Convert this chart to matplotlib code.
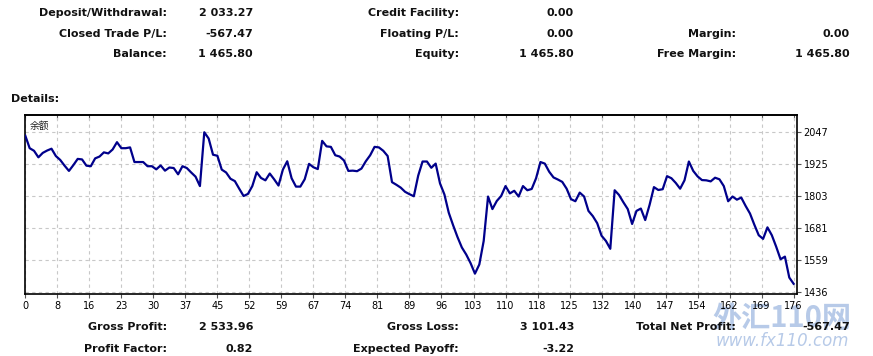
import matplotlib.pyplot as plt

# balance curve, one value per trade
balance = [
    2033, 1985, 1975, 1950, 1967, 1976, 1983, 1955, 1940, 1918,
    1898, 1920, 1944, 1942, 1918, 1916, 1946, 1953, 1969, 1965,
    1980, 2008, 1985, 1985, 1988, 1932, 1932, 1932, 1916, 1916,
    1904, 1919, 1899, 1911, 1909, 1885, 1916, 1909, 1892, 1876,
    1840, 2046, 2022, 1960, 1956, 1903, 1892, 1868, 1859, 1830,
    1802, 1810, 1840, 1893, 1871, 1862, 1888, 1866, 1842, 1903,
    1935, 1870, 1838, 1838, 1866, 1925, 1912, 1905, 2013, 1992,
    1990, 1958, 1953, 1938, 1898, 1899, 1897, 1907, 1935, 1958,
    1990, 1988, 1975, 1955, 1855, 1845, 1834, 1818, 1809, 1801,
    1880, 1934, 1934, 1910, 1926, 1850, 1808, 1738, 1690, 1645,
    1605, 1578, 1545, 1505, 1540, 1630, 1800, 1752, 1783, 1802,
    1840, 1812, 1822, 1800, 1840, 1824, 1829, 1870, 1932, 1926,
    1895, 1873, 1865, 1856, 1830, 1790, 1782, 1815, 1800, 1745,
    1725, 1698, 1650, 1630, 1600, 1824, 1806, 1778, 1752, 1695,
    1745, 1754, 1710, 1768, 1836, 1825, 1828, 1878, 1870, 1852,
    1830, 1862, 1934, 1898, 1877, 1863, 1862, 1858, 1872, 1866,
    1840, 1782, 1800, 1788, 1796, 1764, 1735, 1692, 1652, 1638,
    1682, 1652, 1608, 1560, 1570, 1490, 1466,
]

x_labels = ["0", "8", "16", "23", "30", "37", "45", "52", "59", "67", "74", "81", "89",
            "96", "103", "110", "118", "125", "132", "140", "147", "154", "162", "169", "176"]
y_ticks = [1436, 1559, 1681, 1803, 1925, 2047]

top_rows = [
    ("Deposit/Withdrawal:", "2 033.27", "Credit Facility:", "0.00", "", ""),
    ("Closed Trade P/L:", "-567.47", "Floating P/L:", "0.00", "Margin:", "0.00"),
    ("Balance:", "1 465.80", "Equity:", "1 465.80", "Free Margin:", "1 465.80"),
]
bottom_rows = [
    ("Gross Profit:", "2 533.96", "Gross Loss:", "3 101.43", "Total Net Profit:", "-567.47"),
    ("Profit Factor:", "0.82", "Expected Payoff:", "-3.22", "", ""),
]

W, H = 873, 356
fig = plt.figure(figsize=(W / 100, H / 100), dpi=100)
fig.patch.set_facecolor("white")

# faint watermark, drawn under the axes and labels
fig.text(782 / W, 1 - 318 / H, "外汇110网", family=["Noto Sans CJK SC", "DejaVu Sans"],
         fontsize=21, fontweight="bold", style="italic", color="#b7cae8", ha="center", va="center", zorder=-1)
fig.text(782 / W, 1 - 341 / H, "www.fx110.com", fontsize=12, style="italic",
         color="#b7cae8", ha="center", va="center", zorder=-1)

col_x = [167, 253, 459, 574, 736, 850]


def draw_rows(rows, ys):
    for row, y in zip(rows, ys):
        for txt, cx in zip(row, col_x):
            if txt:
                fig.text(cx / W, 1 - y / H, txt, ha="right", va="center",
                         fontsize=8, fontweight="bold", color="#111111", zorder=3)


draw_rows(top_rows, [13, 34, 54])
draw_rows(bottom_rows, [327, 349])
fig.text(11 / W, 1 - 99 / H, "Details:", ha="left", va="center",
         fontsize=8, fontweight="bold", color="#111111")

ax = fig.add_axes([25.3 / W, 1 - 294 / H, (796.7 - 25.3) / W, (294 - 115) / H])
ax.set_facecolor("none")
ax.plot(range(len(balance)), balance, color="#00008b", lw=1.6, zorder=3)

step = 176 / 24
xt = [k * step for k in range(len(x_labels))]
ax.set_xticks(xt)
ax.set_xticklabels(x_labels)
ax.set_yticks(y_ticks)
ax.set_xlim(0, 176.7)
ax.set_ylim(1427, 2112)

ax.yaxis.tick_right()
ax.tick_params(axis="both", labelsize=7, length=3, width=0.8, color="#555555", pad=2)
for lbl in ax.get_yticklabels():
    lbl.set_horizontalalignment("left")

# small inside marks along the top border
top = ax.secondary_xaxis("top")
top.set_xticks(xt)
top.tick_params(direction="in", length=3, width=0.8, color="#555555", labeltop=False)

ax.grid(True, color="#c8c8c8", linestyle=(0, (3, 3)), linewidth=0.8)
for s in ax.spines.values():
    s.set_color("black")
    s.set_linewidth(1.2)
top.spines["top"].set_linewidth(1.2)

ax.text(0.006, 0.965, "余额", transform=ax.transAxes, ha="left", va="top", fontsize=7,
        family=["Noto Sans CJK SC", "DejaVu Sans"], color="#222222")

fig.savefig("out.png", dpi=100, facecolor="white")
